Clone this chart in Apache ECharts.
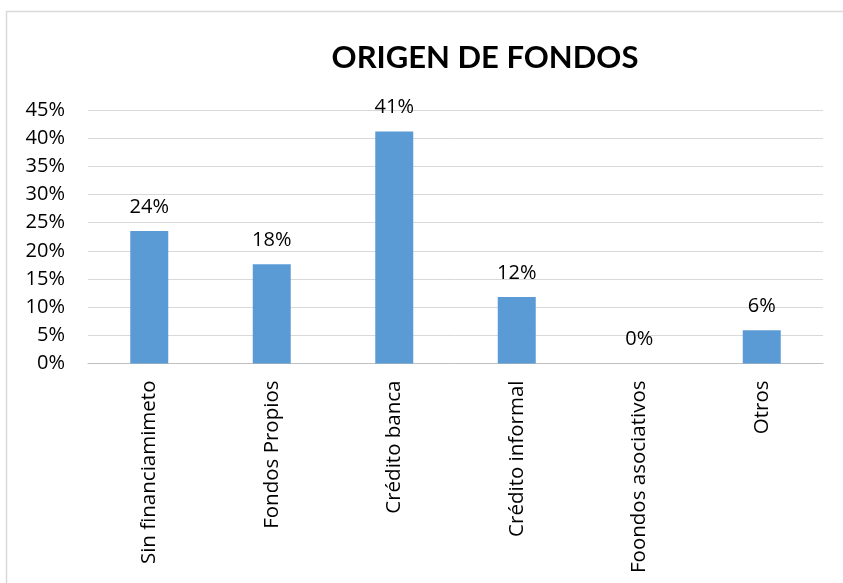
<!DOCTYPE html>
<html>
<head>
<meta charset="utf-8">
<script src="https://cdn.jsdelivr.net/npm/echarts@6/dist/echarts.min.js"></script>
<style>
html,body{margin:0;padding:0;background:#fff;}
#c{width:843px;height:583px;}
</style>
</head>
<body>
<div id="c"></div>
<script>
const titleText = "ORIGEN DE FONDOS";
const categories = ["Sin financiamimeto", "Fondos Propios", "Crédito banca", "Crédito informal", "Foondos asociativos", "Otros"];
const values = [0.235, 0.176, 0.412, 0.118, 0, 0.059];
const yTicks = { min: 0, max: 0.45, interval: 0.05 };

const FONT = '"Open Sans", sans-serif';
const chart = echarts.init(document.getElementById('c'));
chart.setOption({
  animation: false,
  backgroundColor: '#fff',
  title: {
    text: titleText,
    left: 480, top: 37, textAlign: 'center',
    textStyle: { fontFamily: 'Lato, sans-serif', fontSize: 31, fontWeight: 'bold', color: '#000' }
  },
  graphic: [{
    type: 'rect', shape: { x: 6.5, y: 11.5, width: 900, height: 700 },
    style: { fill: 'none', stroke: '#d9d9d9', lineWidth: 1.5 }, silent: true
  }],
  grid: { left: 88, right: 20, top: 110, bottom: 219.5, containLabel: false },
  xAxis: {
    type: 'category', data: categories,
    axisLine: { lineStyle: { color: '#bfbfbf', width: 1 } },
    axisTick: { show: false },
    axisLabel: { rotate: 90, interval: 0, margin: 17, fontFamily: FONT, fontSize: 20.5, color: '#000' }
  },
  yAxis: {
    type: 'value', min: yTicks.min, max: yTicks.max, interval: yTicks.interval,
    axisLine: { show: false }, axisTick: { show: false },
    splitLine: { lineStyle: { color: '#d9d9d9', width: 1 } },
    axisLabel: { margin: 23, fontFamily: FONT, fontSize: 20, color: '#000',
      formatter: v => Math.round(v * 100) + '%' }
  },
  series: [{
    type: 'bar', data: values, barWidth: 38,
    itemStyle: { color: '#5b9bd5' },
    label: { show: true, position: 'top', distance: 14, fontFamily: FONT, fontSize: 20, color: '#000',
      formatter: p => Math.round(p.value * 100) + '%' }
  }]
});
</script>
</body>
</html>
